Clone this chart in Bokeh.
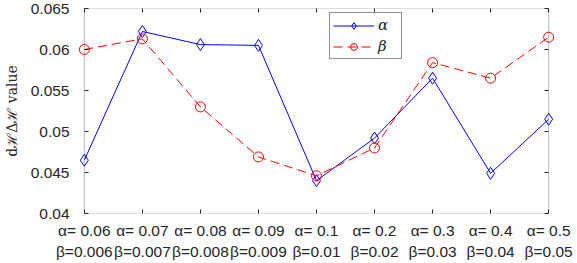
from bokeh.plotting import figure
from bokeh.models import (Range1d, FixedTicker, LinearAxis, Legend, LegendItem,
                          BoxAnnotation, CustomJSTickFormatter)
from bokeh.embed import file_html
from bokeh.resources import INLINE

# ---- data ----
alpha_params = ["0.06", "0.07", "0.08", "0.09", "0.1", "0.2", "0.3", "0.4", "0.5"]
beta_params = ["0.006", "0.007", "0.008", "0.009", "0.01", "0.02", "0.03", "0.04", "0.05"]
alpha_values = [0.0465, 0.0622, 0.0606, 0.0605, 0.0440, 0.0492, 0.0565, 0.0449, 0.0515]
beta_values = [0.0600, 0.0613, 0.0530, 0.0469, 0.0446, 0.0480, 0.0584, 0.0565, 0.0615]
y_ticks = [0.04, 0.045, 0.05, 0.055, 0.06, 0.065]
y_tick_labels = ["0.04", "0.045", "0.05", "0.055", "0.06", "0.065"]
y_label = "dℋΔℋ value"

xs = list(range(len(alpha_params)))
x_tick_labels = [f"α= {a}\nβ={b}" for a, b in zip(alpha_params, beta_params)]

TXT = "#262626"
FONT = "Liberation Sans"
FS = "15.5px"

W, H = 577, 263
BL, BR, BT, BB = 66, 22, 8, 50
PADPX = 7                      # keeps edge markers unclipped
frame_w = W - BL - BR
box_w = frame_w - 2 * PADPX
pad = PADPX * (len(xs) - 1) / box_w

p = figure(width=W, height=H, output_backend="svg", toolbar_location=None,
           x_range=Range1d(xs[0] - pad, xs[-1] + pad),
           y_range=Range1d(y_ticks[0], y_ticks[-1]),
           min_border_top=BT, min_border_left=BL, min_border_right=BR, min_border_bottom=BB)
p.background_fill_color = "white"
p.border_fill_color = "white"
p.outline_line_color = None
p.grid.visible = False

# axes box drawn at the data limits
p.add_layout(BoxAnnotation(left=xs[0], right=xs[-1], bottom=y_ticks[0], top=y_ticks[-1],
                           fill_color=None, line_color=TXT, line_width=1, level="overlay"))

blank = CustomJSTickFormatter(code="return ''")

# bottom axis
xa = p.xaxis[0]
xa.ticker = FixedTicker(ticks=xs)
xa.major_label_overrides = {i: lab for i, lab in zip(xs, x_tick_labels)}
xa.major_label_text_font = FONT
xa.major_label_text_font_size = FS
xa.major_label_text_color = TXT
xa.major_label_text_line_height = 1.25
xa.major_label_standoff = 8
xa.major_tick_in = 4
xa.major_tick_out = 0
xa.minor_tick_line_color = None
xa.axis_line_color = None
xa.major_tick_line_color = TXT

# left axis (ticks start at the box edge, PADPX inside the frame)
ya = p.yaxis[0]
ya.ticker = FixedTicker(ticks=y_ticks)
ya.major_label_overrides = {t: lab for t, lab in zip(y_ticks, y_tick_labels)}
ya.major_label_text_font = FONT
ya.major_label_text_font_size = FS
ya.major_label_text_color = TXT
ya.major_label_standoff = 8
ya.major_tick_in = PADPX + 4
ya.major_tick_out = -PADPX
ya.minor_tick_line_color = None
ya.axis_line_color = None
ya.major_tick_line_color = TXT
ya.axis_label = y_label
ya.axis_label_text_font = "DejaVu Serif"
ya.axis_label_text_font_style = "normal"
ya.axis_label_text_font_size = "14px"
ya.axis_label_text_color = TXT
ya.axis_label_standoff = 8

# top and right tick marks (box style)
top = LinearAxis(ticker=FixedTicker(ticks=xs), formatter=blank,
                 major_label_text_font_size="1px", major_label_standoff=0,
                 major_tick_in=4, major_tick_out=0,
                 minor_tick_line_color=None, axis_line_color=None, major_tick_line_color=TXT)
right = LinearAxis(ticker=FixedTicker(ticks=y_ticks), formatter=blank,
                   major_label_text_font_size="1px", major_label_standoff=0,
                   major_tick_in=PADPX + 4, major_tick_out=-PADPX,
                   minor_tick_line_color=None, axis_line_color=None, major_tick_line_color=TXT)
p.add_layout(top, "above")
p.add_layout(right, "right")

# series
la = p.line(xs, alpha_values, line_color="#0000ff", line_width=1)
sa = p.scatter(xs, alpha_values, marker="diamond", size=12, line_color="#0000ff",
               fill_color=None, line_width=1)
lb = p.line(xs, beta_values, line_color="#ff0000", line_width=1, line_dash="9 5")
sb = p.scatter(xs, beta_values, marker="circle", size=10, line_color="#ff0000",
               fill_color=None, line_width=1)

legend = Legend(items=[LegendItem(label="α", renderers=[la, sa]),
                       LegendItem(label="β", renderers=[lb, sb])],
                location=(252, 154), margin=0, padding=3, spacing=3,
                glyph_width=41, glyph_height=17, label_height=17, label_standoff=4,
                label_text_font="DejaVu Serif", label_text_font_style="italic",
                label_text_font_size="15px", label_text_color=TXT,
                border_line_color=TXT, border_line_width=1,
                background_fill_color="white", background_fill_alpha=1)
p.add_layout(legend)

open("out.html", "w").write(file_html(p, INLINE))
